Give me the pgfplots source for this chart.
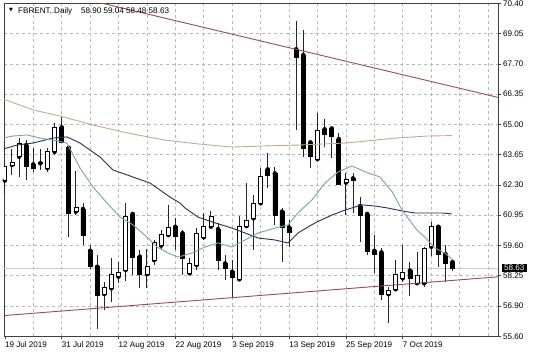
\documentclass[border=0pt]{standalone}
\usepackage{pgfplots}
\pgfplotsset{compat=1.18}
\usepackage{pgfplotstable}
\usepackage{fontspec}
\setmainfont{Liberation Sans}
\newfontfamily\triFont{DejaVu Sans}

\definecolor{maNavy}{HTML}{2B2B5E}
\definecolor{maTeal}{HTML}{72A89F}
\definecolor{maTan}{HTML}{C8A88A}
\definecolor{trendRed}{HTML}{9E4A4A}
\definecolor{gridGray}{HTML}{B8B8B8}

\pgfplotstableread{
i O H L C
0 62.52 63.44 61.88 63.14
1 63.21 63.91 62.77 63.33
2 63.58 64.40 62.69 64.18
3 64.10 64.32 62.55 63.17
4 63.24 63.96 62.92 63.07
5 63.29 63.91 62.99 63.33
6 63.07 63.96 62.92 63.84
7 63.80 65.07 63.66 64.89
8 64.89 65.36 64.18 64.20
9 63.98 64.00 60.03 61.07
10 61.14 62.95 60.99 61.33
11 61.26 61.51 59.66 60.07
12 59.40 59.66 58.58 58.72
13 58.69 59.21 55.91 57.44
14 57.48 58.03 56.77 57.76
15 57.73 59.07 57.14 58.36
16 58.25 58.89 57.96 58.44
17 58.55 61.51 58.06 60.92
18 61.04 61.14 58.32 59.09
19 59.14 59.44 57.73 58.37
20 58.36 59.47 57.73 58.69
21 58.99 59.88 58.77 59.76
22 59.63 60.32 59.44 60.13
23 60.10 61.44 60.03 60.44
24 60.47 60.84 59.44 60.03
25 60.18 60.32 58.32 59.07
26 58.40 59.07 58.37 58.84
27 58.77 60.40 58.55 60.18
28 60.00 61.07 59.88 60.50
29 60.47 61.18 60.40 60.92
30 60.36 60.62 58.55 58.99
31 58.84 59.21 58.10 58.62
32 58.47 58.99 57.29 58.22
33 58.13 60.95 58.08 60.47
34 60.50 62.40 60.40 60.77
35 60.84 61.88 59.44 61.51
36 61.51 63.07 61.48 62.69
37 63.02 63.73 62.18 62.76
38 62.84 63.14 60.55 60.99
39 61.14 61.29 58.92 60.44
40 60.44 60.77 59.58 60.22
41 68.36 69.60 64.77 68.00
42 68.10 69.21 63.58 63.96
43 64.22 64.32 63.07 63.61
44 63.47 65.51 63.44 64.74
45 64.80 65.24 64.03 64.59
46 64.84 64.92 63.51 64.47
47 64.37 64.62 62.32 62.37
48 62.43 62.84 60.99 62.58
49 62.62 62.84 61.07 62.55
50 61.39 61.80 59.80 60.99
51 61.04 61.07 59.21 59.36
52 59.40 60.10 58.43 59.24
53 59.33 59.51 57.21 57.48
54 57.47 57.80 56.18 57.66
55 57.69 58.99 57.66 58.37
56 58.18 59.66 58.03 58.43
57 58.52 58.92 57.40 58.16
58 57.96 59.36 57.88 58.29
59 57.96 59.58 57.80 59.51
60 59.58 60.69 59.17 60.50
61 60.47 60.55 58.67 59.26
62 59.26 59.66 58.03 58.84
63 58.90 59.04 58.48 58.63
}\ohlc

\pgfplotstableread{
k p
-0.25 63.92
1.72 64.10
3.97 64.19
6.78 64.41
8.75 64.46
10.58 64.19
13.40 63.57
15.23 62.99
18.04 62.68
20.43 62.41
23.24 61.79
24.65 61.52
25.36 61.30
27.18 60.90
29.58 60.64
31.97 60.41
33.80 60.19
35.63 59.97
38.02 59.88
39.85 59.75
41.25 60.19
43.65 60.64
46.04 60.99
47.87 61.21
50.26 61.44
52.09 61.39
53.92 61.30
55.89 61.17
57.72 61.08
59.55 61.08
61.52 61.08
62.92 61.04
}\maNavyTab

\pgfplotstableread{
k p
-0.25 64.41
1.15 64.50
3.12 64.55
4.95 64.41
6.78 64.32
8.75 64.19
10.58 63.08
12.41 62.24
14.38 61.52
16.21 60.90
18.04 60.55
20.01 60.01
21.42 59.57
23.24 59.26
24.37 59.12
26.34 59.30
28.17 59.57
30.00 59.75
31.97 59.57
33.80 59.88
35.63 60.19
38.02 60.41
39.85 60.55
41.25 61.08
43.22 61.66
45.05 62.41
46.88 62.90
48.85 63.17
51.10 62.86
52.79 62.68
54.62 61.97
55.89 61.21
58.00 60.32
59.12 60.01
60.53 59.52
61.93 59.30
63.07 58.99
}\maTealTab

\pgfplotstableread{
k p
-0.25 66.15
3.97 65.66
7.77 65.39
12.41 64.99
17.19 64.64
22.54 64.32
27.18 64.15
31.97 64.01
36.61 64.06
41.25 64.10
47.87 64.19
49.98 64.25
54.62 64.40
59.41 64.50
62.92 64.52
}\maTanTab

\tikzset{lblfont/.style={font=\fontsize{8.1}{9.7}\selectfont}}
\pgfplotsset{
  chartbase/.style={
    scale only axis, width=494pt, height=333pt,
    at={(4pt,21.7pt)}, anchor=south west,
    xmin=-0.113, xmax=69.40, ymin=55.60, ymax=70.40,
  },
}

\begin{document}
\begin{tikzpicture}[x=1pt,y=1pt]
\useasboundingbox (0,0) rectangle (536,358);
\fill[white] (0,0) rectangle (536,358);

% axis A: frame, grid, ticks, wicks, bid line
\begin{axis}[chartbase,
  axis line style={black!75, line width=0.8pt},
  xtick={0,8,...,56},
  xticklabels={19 Jul 2019,31 Jul 2019,12 Aug 2019,22 Aug 2019,3 Sep 2019,13 Sep 2019,25 Sep 2019,7 Oct 2019},
  minor xtick={4,8,...,68},
  xminorgrids=true,
  minor x grid style={gridGray, dash pattern=on 3pt off 3pt, line width=0.6pt},
  minor tick length=0pt,
  xtick pos=left, ytick pos=right,
  ytick={55.6,56.94545,58.29091,59.63636,60.98182,62.32727,63.67273,65.01818,66.36364,67.70909,69.05455,70.4},
  yticklabels={55.60,56.90,58.25,59.60,60.95,62.30,63.65,65.00,66.35,67.70,69.05,70.40},
  ymajorgrids=true,
  major grid style={gridGray, dash pattern=on 3pt off 3pt, line width=0.6pt},
  tick align=outside, major tick length=3pt,
  tick style={black!75, line width=0.6pt},
  xticklabel style={lblfont, anchor=north west, inner sep=0pt, yshift=-2pt},
  yticklabel style={lblfont, anchor=west, inner sep=0pt, xshift=2pt},
]
\addplot[gray!40, line width=0.7pt] coordinates {(-1,58.63) (70,58.63)};
\addplot[only marks, mark=none,
  error bars/.cd, y dir=both, y explicit, error mark=none,
  error bar style={draw=black!85, solid, line width=0.9pt}]
  table[x=i, y=O, y error plus expr=\thisrow{H}-\thisrow{O}, y error minus expr=\thisrow{O}-\thisrow{L}] {\ohlc};
\end{axis}

% axis B: candle bodies
\begin{axis}[chartbase, hide axis, ybar stacked, bar width=4pt]
\addplot[draw=none, fill=none] table[x=i, y expr={min(\thisrow{O},\thisrow{C})}] {\ohlc};
\addplot[draw=black, fill=white, line width=0.7pt] table[x=i, y expr={max(\thisrow{C}-\thisrow{O},0)}] {\ohlc};
\addplot[draw=black, fill=black, line width=0.7pt] table[x=i, y expr={max(\thisrow{O}-\thisrow{C},0)}] {\ohlc};
\end{axis}

% axis C: indicators, trendlines, bid label
\begin{axis}[chartbase, hide axis, clip mode=individual]
\addplot[maTan, line width=0.9pt] table[x=k, y=p] {\maTanTab};
\addplot[maNavy, line width=0.9pt] table[x=k, y=p] {\maNavyTab};
\addplot[maTeal, line width=0.9pt] table[x=k, y=p] {\maTealTab};
\addplot[trendRed, line width=0.9pt] coordinates {(-0.2,71.447) (69.5,66.21)};
\addplot[trendRed, line width=0.9pt] coordinates {(-0.2,56.52) (69.5,58.245)};
\node[fill=black, text=white, anchor=west, inner xsep=2.3pt, inner ysep=1.3pt, lblfont, xshift=3.7pt] at (axis cs:69.40,58.63) {58.63};
\end{axis}

\node[anchor=center, inner sep=0pt] at (11,347.3) {\triFont\fontsize{5}{6}\selectfont ▼};
\node[anchor=base west, inner sep=0pt, lblfont] at (18,344.7) {FBRENT..Daily};
\node[anchor=base west, inner sep=0pt, lblfont] at (81,344.7) {58.90 59.04 58.48 58.63};
\end{tikzpicture}
\end{document}
